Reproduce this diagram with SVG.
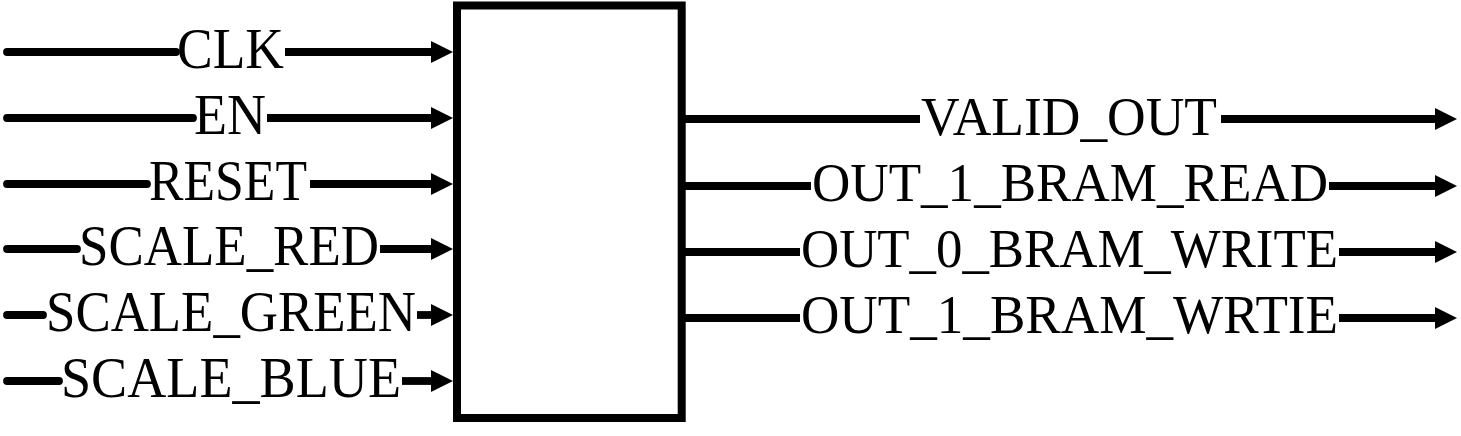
<svg xmlns="http://www.w3.org/2000/svg" xmlns:xlink="http://www.w3.org/1999/xlink" width="1461" height="436" viewBox="0 0 1461 436">
  <style>
    .w { stroke: #000; stroke-width: 7.8; fill: none; }
    .wl { stroke: #000; stroke-width: 7.8; fill: none; stroke-linecap: round; }
    .box { stroke: #000; stroke-width: 8; fill: #fff; }
    .lbl { font-family: "Liberation Serif", "Times New Roman", serif; fill: #000; text-anchor: middle; }
    .in { font-size: 56px; }
    .out { font-size: 54px; }
  </style>
  <defs>
    <path id="ah" d="M -22 -11 L 0 0 L -22 11 Z" fill="#000"/>
  </defs>
  <rect width="1461" height="436" fill="#fff"/>

  <g id="block">
    <rect class="box" x="457" y="5.5" width="224.7" height="412.5"/>
  </g>

  <g id="connectors">
    <g id="in-clk">
      <line class="wl" x1="7" y1="52" x2="176" y2="52"/>
      <line class="w" x1="285" y1="52" x2="433" y2="52"/>
      <use xlink:href="#ah" x="453" y="52"/>
      <text class="lbl in" x="230.5" y="68" textLength="107" lengthAdjust="spacingAndGlyphs">CLK</text>
    </g>
    <g id="in-en">
      <line class="wl" x1="7" y1="118" x2="193" y2="118"/>
      <line class="w" x1="267" y1="118" x2="433" y2="118"/>
      <use xlink:href="#ah" x="453" y="118"/>
      <text class="lbl in" x="230" y="134" textLength="72" lengthAdjust="spacingAndGlyphs">EN</text>
    </g>
    <g id="in-reset">
      <line class="wl" x1="7" y1="184" x2="147" y2="184"/>
      <line class="w" x1="310" y1="184" x2="433" y2="184"/>
      <use xlink:href="#ah" x="453" y="184"/>
      <text class="lbl in" x="228" y="200" textLength="158" lengthAdjust="spacingAndGlyphs">RESET</text>
    </g>
    <g id="in-scale-red">
      <line class="wl" x1="7" y1="249" x2="77" y2="249"/>
      <line class="w" x1="380" y1="249" x2="433" y2="249"/>
      <use xlink:href="#ah" x="453" y="249"/>
      <text class="lbl in" x="229" y="265" textLength="300" lengthAdjust="spacingAndGlyphs">SCALE_RED</text>
    </g>
    <g id="in-scale-green">
      <line class="wl" x1="7" y1="315" x2="43" y2="315"/>
      <line class="w" x1="417" y1="315" x2="433" y2="315"/>
      <use xlink:href="#ah" x="453" y="315"/>
      <text class="lbl in" x="231" y="331" textLength="370" lengthAdjust="spacingAndGlyphs">SCALE_GREEN</text>
    </g>
    <g id="in-scale-blue">
      <line class="wl" x1="7" y1="381" x2="59" y2="381"/>
      <line class="w" x1="402" y1="381" x2="433" y2="381"/>
      <use xlink:href="#ah" x="453" y="381"/>
      <text class="lbl in" x="231" y="397" textLength="340" lengthAdjust="spacingAndGlyphs">SCALE_BLUE</text>
    </g>

    <g id="out-valid">
      <line class="w" x1="681" y1="119" x2="920" y2="119"/>
      <line class="w" x1="1221" y1="119" x2="1437" y2="119"/>
      <use xlink:href="#ah" x="1457" y="119"/>
      <text class="lbl out" x="1069" y="134.5" textLength="296" lengthAdjust="spacingAndGlyphs">VALID_OUT</text>
    </g>
    <g id="out-1-read">
      <line class="w" x1="681" y1="186" x2="811" y2="186"/>
      <line class="w" x1="1329" y1="186" x2="1437" y2="186"/>
      <use xlink:href="#ah" x="1457" y="186"/>
      <text class="lbl out" x="1070" y="201" textLength="516" lengthAdjust="spacingAndGlyphs">OUT_1_BRAM_READ</text>
    </g>
    <g id="out-0-write">
      <line class="w" x1="681" y1="252" x2="800" y2="252"/>
      <line class="w" x1="1339" y1="252" x2="1437" y2="252"/>
      <use xlink:href="#ah" x="1457" y="252"/>
      <text class="lbl out" x="1069.5" y="267" textLength="537" lengthAdjust="spacingAndGlyphs">OUT_0_BRAM_WRITE</text>
    </g>
    <g id="out-1-wrtie">
      <line class="w" x1="681" y1="318" x2="800" y2="318"/>
      <line class="w" x1="1339" y1="318" x2="1437" y2="318"/>
      <use xlink:href="#ah" x="1457" y="318"/>
      <text class="lbl out" x="1069.5" y="333" textLength="537" lengthAdjust="spacingAndGlyphs">OUT_1_BRAM_WRTIE</text>
    </g>
  </g>
</svg>
